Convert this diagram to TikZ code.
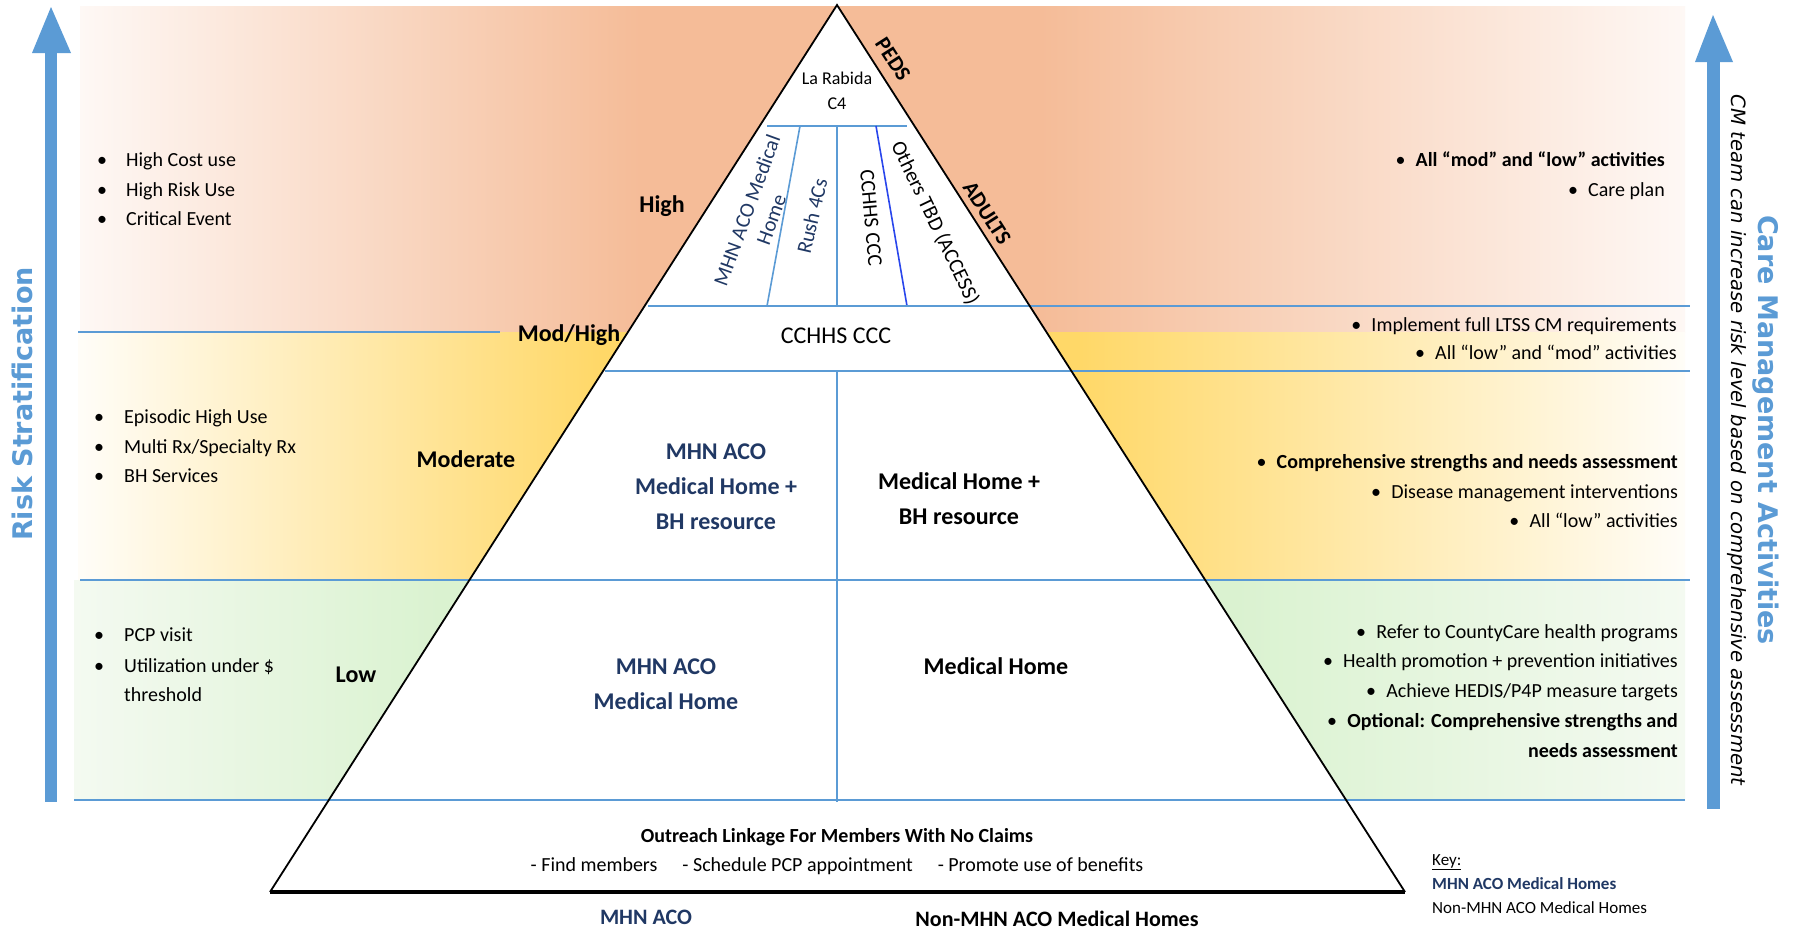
\documentclass[tikz,border=0pt]{standalone}
\usepackage{fontspec}
\setmainfont{Carlito}
\newfontfamily\verd{DejaVu Sans}
\usetikzlibrary{calc}
\definecolor{lineblue}{RGB}{91,155,213}
\definecolor{navy}{RGB}{32,56,100}
\definecolor{hiS}{RGB}{245,188,152}
\definecolor{hiL}{RGB}{254,248,245}
\definecolor{moS}{RGB}{255,216,104}
\definecolor{moL}{RGB}{255,253,248}
\definecolor{loS}{RGB}{218,242,208}
\definecolor{loL}{RGB}{244,250,241}
\newcommand{\fsz}[1]{\fontsize{#1}{#1}\selectfont}
\begin{document}
\begin{tikzpicture}[x=1pt,y=-1pt,
  blueline/.style={draw=lineblue,line width=2.4pt},
  divline/.style={draw=lineblue,line width=1.6pt},
  edgeline/.style={draw=black,line width=1.8pt},
  txt/.style={inner sep=0pt,font=\fsz{20}},
  lbul/.style={txt,anchor=mid west},
  rbul/.style={txt,anchor=mid east},
  dotnode/.style={txt,anchor=mid},
  lvl/.style={inner sep=0pt,font=\bfseries\fsz{24}},
  ptext/.style={inner sep=0pt,font=\bfseries\fontsize{24}{35}\selectfont,align=center},
  rot/.style={inner sep=0pt,font=\fsz{21}},
  arrowfill/.style={fill=lineblue},
]
\useasboundingbox (0,0) rectangle (1793,929);
\fill[white] (0,0) rectangle (1793,929);

% ---- background bands
\shade[left color=hiL,right color=hiS] (80,6) rectangle (640,332);
\fill[hiS] (639,6) rectangle (1041,332);
\shade[left color=hiS,right color=hiL] (1040,6) rectangle (1685,332);

\shade[left color=moL,right color=moS] (78,332) rectangle (600,580);
\fill[moS] (599,332) rectangle (1081,580);
\shade[left color=moS,right color=moL] (1080,332) rectangle (1685,580);

\shade[left color=loL,right color=loS] (74,580) rectangle (440,800);
\fill[loS] (439,580) rectangle (1236,800);
\shade[left color=loS,right color=loL] (1235,580) rectangle (1685,800);

% ---- pyramid
\coordinate (apex) at (837,5);
\coordinate (bl) at (270,892);
\coordinate (br) at (1405,892);
\fill[white] (apex) -- (bl) -- (br) -- cycle;

% internal lines
\coordinate (t1l) at (767,126); \coordinate (t1r) at (907,126);
\draw[divline] (t1l) -- (t1r);
\coordinate (d1t) at (800,126); \coordinate (d1b) at (767,306);
\coordinate (d2t) at (837,126); \coordinate (d2b) at (837,306);
\coordinate (d3t) at (876,126); \coordinate (d3b) at (907,306);
\draw[divline] (d1t) -- (d1b);
\draw[divline] (d2t) -- (d2b);
\draw[divline,draw=blue!55!lineblue] (d3t) -- (d3b);

\coordinate (l2a) at (648,306); \coordinate (l2b) at (1690,306);
\coordinate (l3a) at (78,332);  \coordinate (l3b) at (500,332);
\coordinate (l4a) at (605,371); \coordinate (l4b) at (1690,371);
\coordinate (l5a) at (80,580);  \coordinate (l5b) at (1690,580);
\coordinate (l6a) at (74,800);  \coordinate (l6b) at (1685,800);
\draw[blueline] (l2a) -- (l2b);
\draw[blueline] (l3a) -- (l3b);
\draw[blueline] (l4a) -- (l4b);
\draw[blueline] (l5a) -- (l5b);
\draw[blueline] (l6a) -- (l6b);
\coordinate (vt) at (837,371); \coordinate (vb) at (837,802);
\draw[divline] (vt) -- (vb);

\draw[edgeline,line join=miter] (bl) -- (apex) -- (br);
\draw[draw=black,line width=3.4pt] (bl) -- (br);

% ---- arrows
\fill[arrowfill] (45,53) rectangle (57,802);
\fill[arrowfill] (32,53) -- (71,53) -- (51,7) -- cycle;
\fill[arrowfill] (1707,62) rectangle (1720,809);
\fill[arrowfill] (1695,62) -- (1733,62) -- (1713,15) -- cycle;

\node[inner sep=0pt,rotate=90,font=\verd\bfseries\fsz{27},text=lineblue] (risk) at (22,404) {Risk Stratification};
\node[inner sep=0pt,rotate=-90,font=\verd\bfseries\fsz{27},text=lineblue] (cma) at (1766,430) {Care Management Activities};
\node[inner sep=0pt,rotate=-90,font=\verd\itshape\fsz{19.7}] (cmt) at (1737,440) {CM team can increase risk level based on comprehensive assessment};

% ---- top of pyramid
\node[inner sep=0pt,font=\fontsize{18}{25}\selectfont,align=center] (lar) at (837,91) {La Rabida\\C4};
\node[inner sep=0pt,rotate=-57.4,font=\bfseries\fsz{22}] (peds) at (893,59) {PEDS};
\node[inner sep=0pt,rotate=-57.4,font=\bfseries\fsz{22}] (adults) at (987,213) {ADULTS};
\node[rot,rotate=70,align=center,text=navy,font=\fontsize{21}{26}\selectfont] (mhnv) at (759,215) {MHN ACO Medical\\Home};
\node[rot,rotate=77,text=navy] (rush) at (812,216) {Rush 4Cs};
\node[rot,rotate=-85] (cchv) at (871,218) {CCHHS CCC};
\node[rot,rotate=-64.4] (oth) at (935,223) {Others TBD (ACCESS)};
\node[inner sep=0pt,font=\fsz{24}] (cch) at (836,336) {CCHHS CCC};

% ---- level labels
\node[lvl] (high) at (662,206) {High};
\node[lvl] (modh) at (569,335) {Mod/High};
\node[lvl] (mod) at (466,459) {Moderate};
\node[lvl] (low) at (356,675) {Low};

% ---- pyramid bodies
\node[ptext,text=navy] (pm1) at (716,487) {MHN ACO\\Medical Home +\\BH resource};
\node[ptext] (pn1) at (959,499) {Medical Home +\\BH resource};
\node[ptext,text=navy] (pm2) at (666,684) {MHN ACO\\Medical Home};
\node[lvl] (pn2) at (996,666) {Medical Home};
\node[inner sep=0pt,font=\bfseries\fsz{20}] (out1) at (837,837) {Outreach Linkage For Members With No Claims};
\node[inner sep=0pt,font=\fsz{20}] (out2) at (837,866) {- Find members\hspace{25pt}- Schedule PCP appointment\hspace{25pt}- Promote use of benefits};
\node[inner sep=0pt,font=\bfseries\fsz{22},text=navy] (bm) at (646,917) {MHN ACO};
\node[inner sep=0pt,font=\bfseries\fsz{22}] (bn) at (1057,919) {Non-MHN ACO Medical Homes};

% ---- key
\node[inner sep=0pt,anchor=mid west,font=\fsz{17}] (key) at (1432,863) {\underline{Key:}};
\node[inner sep=0pt,anchor=mid west,font=\bfseries\fsz{17},text=navy] (key1) at (1432,887) {MHN ACO Medical Homes};
\node[inner sep=0pt,anchor=mid west,font=\fsz{17}] (key2) at (1432,911) {Non-MHN ACO Medical Homes};

% ---- left bullets
\node[lbul] (lh1) at (126,164) {High Cost use};
\node[lbul] (lh2) at (126,194) {High Risk Use};
\node[lbul] (lh3) at (126,223) {Critical Event};
\node[dotnode] (lh1d) at (102,164) {•};
\node[dotnode] (lh2d) at (102,194) {•};
\node[dotnode] (lh3d) at (102,223) {•};
\node[lbul] (lm1) at (124,421) {Episodic High Use};
\node[lbul] (lm2) at (124,451) {Multi Rx/Specialty Rx};
\node[lbul] (lm3) at (124,480) {BH Services};
\node[dotnode] (lm1d) at (99,421) {•};
\node[dotnode] (lm2d) at (99,451) {•};
\node[dotnode] (lm3d) at (99,480) {•};
\node[lbul] (ll1) at (124,639) {PCP visit};
\node[lbul] (ll2) at (124,670) {Utilization under \$};
\node[lbul] (ll3) at (124,699) {threshold};
\node[dotnode] (ll1d) at (99,639) {•};
\node[dotnode] (ll2d) at (99,670) {•};

% ---- right bullets
\node[rbul,font=\bfseries\fsz{20}] (rh1) at (1665,164) {All “mod” and “low” activities};
\node[rbul] (rh2) at (1665,194) {Care plan};
\node[rbul] (rmh1) at (1677,329) {Implement full LTSS CM requirements};
\node[rbul] (rmh2) at (1677,357) {All “low” and “mod” activities};
\node[rbul,font=\bfseries\fsz{20}] (rm1) at (1678,466) {Comprehensive strengths and needs assessment};
\node[rbul] (rm2) at (1678,496) {Disease management interventions};
\node[rbul] (rm3) at (1678,525) {All “low” activities};
\node[rbul] (rl1) at (1678,636) {Refer to CountyCare health programs};
\node[rbul] (rl2) at (1678,665) {Health promotion + prevention initiatives};
\node[rbul] (rl3) at (1678,695) {Achieve HEDIS/P4P measure targets};
\node[rbul,font=\bfseries\fsz{20}] (rl4) at (1678,725) {Optional: Comprehensive strengths and};
\node[rbul,font=\bfseries\fsz{20}] (rl5) at (1678,755) {needs assessment};
\foreach \n in {rh1,rh2,rmh1,rmh2,rm1,rm2,rm3,rl1,rl2,rl3,rl4}{
  \node[dotnode] (\n d) at ($(\n.mid west)+(-15,0)$) {•};
}
\end{tikzpicture}
\end{document}
